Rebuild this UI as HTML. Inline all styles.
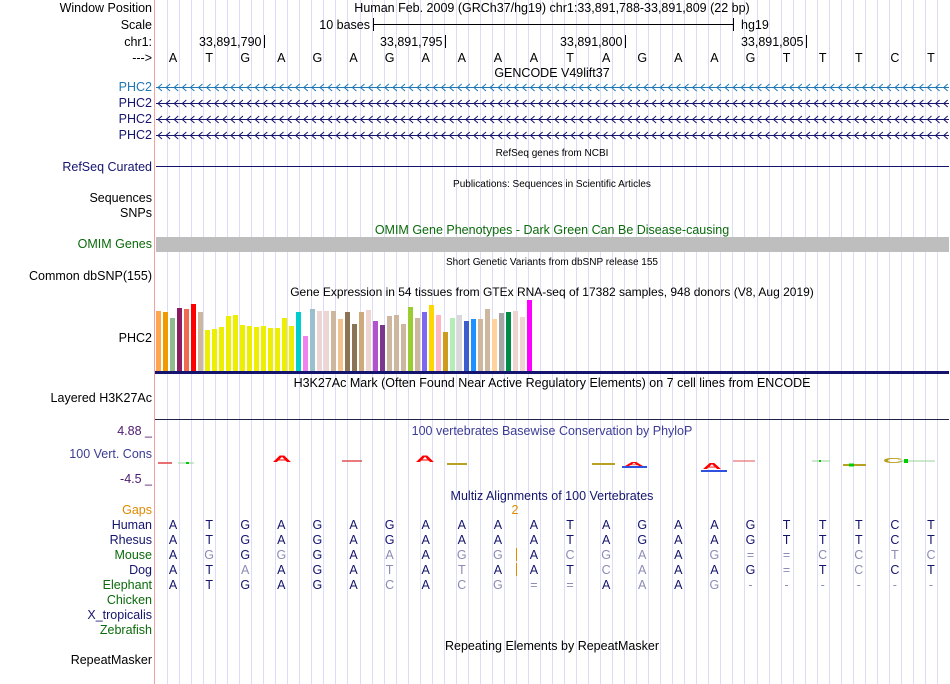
<!DOCTYPE html>
<html><head><meta charset="utf-8">
<style>
html,body{margin:0;padding:0;background:#fff;}
svg{display:block;font-family:"Liberation Sans",sans-serif;}
</style></head>
<body>
<svg id="c" width="950" height="684" viewBox="0 0 950 684" xmlns="http://www.w3.org/2000/svg">
<g id="grid"></g>
<line x1="154.5" y1="0" x2="154.5" y2="684" stroke="#f4a0a0" stroke-width="1"/>
<g id="labels" font-size="12.5" text-anchor="end"></g>
<g id="main"></g>
</svg>
<script>
const bases = ['A','T','G','A','G','A','G','A','A','A','A','T','A','G','A','A','G','T','T','T','C','T'];
const mouse = ['A','G','G','G','G','A','A','A','G','G','A','C','G','A','A','G','=','=','C','C','T','C'];
const dog = ['A','T','A','A','G','A','T','A','T','A','A','T','C','A','A','A','G','=','T','C','C','T'];
const elephant = ['A','T','G','A','G','A','C','A','C','G','=','=','A','A','A','G','-','-','-','-','-','-'];
const exprValues = [60,59,53,63,62,67,59,41,42,44,55,56,46,45,44,45,43,43,53,45,59,35,62,60,60,60,52,59,47,59,61,50,46,55,56,47,64,53,59,66,56,39,53,56,50,52,52,62,52,58,59,60,54,71];
const exprColors = ['#FFA54F','#EE9A00','#8FBC8F','#8B1C62','#EE6A50','#FF0000','#CDB79E','#EEEE00','#EEEE00','#EEEE00','#EEEE00','#EEEE00','#EEEE00','#EEEE00','#EEEE00','#EEEE00','#EEEE00','#EEEE00','#EEEE00','#EEEE00','#00CDCD','#EE82EE','#9AC0CD','#EED5D2','#EED5D2','#CDB79E','#F4C28E','#8B7355','#8B7355','#CDAA7D','#EED5D2','#B452CD','#7A378B','#CDB79E','#CDB79E','#CDB79E','#9ACD32','#CDB79E','#7B68EE','#FFD700','#FFB6C1','#CD9B1D','#B4EEB4','#D9D9D9','#3A5FCD','#1E90FF','#CDB79E','#CDB79E','#FFD39B','#A6A6A6','#008B45','#EED5D2','#EED5D2','#FF00FF'];
const tickLabels = ['33,891,790','33,891,795','33,891,800','33,891,805'];
const tickBaseIdx = [2,7,12,17];

const NS='http://www.w3.org/2000/svg';
const X0=155, BW=(949-155)/22;
function bx(i){return X0+BW*(i+0.5);}
function mk(tag,attrs,parent,txt){const e=document.createElementNS(NS,tag);for(const k in attrs)e.setAttribute(k,attrs[k]);if(txt!==undefined)e.textContent=txt;parent.appendChild(e);return e;}
const grid=document.getElementById('grid'),lab=document.getElementById('labels'),main=document.getElementById('main');

for(let k=1;k<66;k++){const x=Math.round(X0+BW/3*k)+0.5;if(x>949)break;
 const l=mk('line',{x1:x,y1:0,x2:x,y2:684,stroke:'#dcdcf6','stroke-width':1},grid);
 
 }

const labelRows=[['Window Position',12,'#000'],['Scale',29,'#000'],['chr1:',46,'#000'],['--->',62,'#000'],
['PHC2',91,'#1f77b4'],['PHC2',107,'#14146e'],['PHC2',123,'#14146e'],['PHC2',139,'#14146e'],
['RefSeq Curated',171,'#14146e'],['Sequences',202,'#000'],['SNPs',217,'#000'],['OMIM Genes',248,'#0b6a0b'],
['Common dbSNP(155)',280,'#000'],['PHC2',342,'#000'],['Layered H3K27Ac',402,'#000'],
['4.88 _',435,'#4b1a6e'],['100 Vert. Cons',458,'#3c3c96'],['-4.5 _',483,'#4b1a6e'],
['Gaps',514,'#e08a00'],['Human',529,'#14146e'],['Rhesus',544,'#14146e'],['Mouse',559,'#0b6a0b'],['Dog',574,'#14146e'],
['Elephant',589,'#0b6a0b'],['Chicken',604,'#0b6a0b'],['X_tropicalis',619,'#14146e'],['Zebrafish',634,'#0b6a0b'],['RepeatMasker',664,'#000']];
labelRows.forEach(r=>{const t=mk('text',{x:152,y:r[1],fill:r[2]},lab,r[0]);
 
 });

function title(txt,y,size,col,name,cx){const t=mk('text',{x:cx||552,y:y,'font-size':size,fill:col,'text-anchor':'middle'},main,txt);
 
 }
title('Human Feb. 2009 (GRCh37/hg19)   chr1:33,891,788-33,891,809 (22 bp)',12,12.5,'#000','position-title',552);
mk('text',{x:370,y:29,'font-size':12.5,'text-anchor':'end'},main,'10 bases');
mk('line',{x1:373,y1:24.5,x2:733,y2:24.5,stroke:'#000'},main);
mk('line',{x1:373.5,y1:18,x2:373.5,y2:31,stroke:'#000'},main);
mk('line',{x1:733.5,y1:18,x2:733.5,y2:31,stroke:'#000'},main);
mk('text',{x:741,y:29,'font-size':12.5},main,'hg19');
tickLabels.forEach((s,i)=>{const x=Math.round(bx(tickBaseIdx[i])+BW/2)+1.5;
 const t=mk('text',{x:x-3,y:46,'font-size':12.5,'text-anchor':'end'},main,s);
 
 
 mk('line',{x1:x,y1:35,x2:x,y2:48,stroke:'#000'},main);});
bases.forEach((b,i)=>{const t=mk('text',{x:bx(i),y:62,'font-size':12.5,'text-anchor':'middle'},main,b);
 
 });
title('GENCODE V49lift37',77,12.5,'#000','gencode-title');
[[87,'#1f77b4'],[103,'#14146e'],[119,'#14146e'],[135,'#14146e']].forEach(r=>{
 const g=mk('g',{stroke:r[1],fill:'none','stroke-width':1},main);
 
 
 mk('line',{x1:156,y1:r[0]+0.5,x2:949,y2:r[0]+0.5},g);
 for(let x=158;x<948;x+=8.1)mk('polyline',{points:`${x+4},${r[0]-3} ${x},${r[0]+0.5} ${x+4},${r[0]+4}`},g);});
title('RefSeq genes from NCBI',156,10,'#000','refseq-title');
const rl=mk('line',{x1:156,y1:166.5,x2:949,y2:166.5,stroke:'#14146e'},main);


title('Publications: Sequences in Scientific Articles',187,10,'#000','publications-title');
title('OMIM Gene Phenotypes - Dark Green Can Be Disease-causing',234,12.5,'#0b6a0b','omim-title');
const ob=mk('rect',{x:156,y:237,width:793,height:15,fill:'#bebebe'},main);


title('Short Genetic Variants from dbSNP release 155',265,10,'#000','dbsnp-title');
title('Gene Expression in 54 tissues from GTEx RNA-seq of 17382 samples, 948 donors (V8, Aug 2019)',296,12,'#000','gtex-title');
const baseY=371, yScale=1.0;
function ey(v){return baseY-v*yScale;}
exprValues.forEach((v,i)=>{const r=mk('rect',{x:156+i*7,y:ey(v),width:5,height:baseY-ey(v),fill:exprColors[i]},main);
 
 });
mk('rect',{x:155,y:371,width:794,height:3,fill:'#14146e'},main);
title('H3K27Ac Mark (Often Found Near Active Regulatory Elements) on 7 cell lines from ENCODE',387,12.5,'#000','h3k27ac-title');
mk('line',{x1:155,y1:419.5,x2:949,y2:419.5,stroke:'#222244'},main);
title('100 vertebrates Basewise Conservation by PhyloP',435,12.5,'#3c3c96','phylop-title');
function dash(x1,x2,y,c,w){mk('line',{x1:x1,y1:y,x2:x2,y2:y,stroke:c,'stroke-width':w||1.5},main);}
function logo(ch,cx,y,c,sx,sy){const p=mk('text',{x:0,y:0,'font-size':14,'font-weight':'bold',fill:c,'text-anchor':'middle',transform:`translate(${cx},${y}) scale(${sx},${sy})`},main,ch);
 
 }
dash(158,172,463,'#e04040');dash(178,194,463,'#9dd09d',1);dash(186,189,463,'#00cc00',2);
logo('A',282,462,'#ff0000',1.9,0.65);
dash(342,362,461,'#e05050');
logo('A',425,462,'#ff0000',1.9,0.65);dash(447,467,464,'#b8a020',2);
dash(592,615,464,'#b8a020',2);logo('A',634,466,'#ff0000',1.9,0.4);dash(622,647,467,'#3050e0',2);
logo('A',712,469,'#ff0000',1.9,0.6);dash(701,727,471,'#3050e0',2);dash(733,755,461,'#e05050',1);
dash(812,830,461,'#9dd09d',1);dash(819,821,461,'#00cc00',2);dash(843,866,465,'#b8a020',2);dash(849,854,465,'#00cc00',3);
logo('C',893,463,'#b8a020',2.0,0.55);
dash(900,935,461,'#9dd09d',1);dash(904,908,461,'#00cc00',4);
title('Multiz Alignments of 100 Vertebrates',500,12.5,'#14146e','multiz-title');
const DARK='#14146e', GRAY='#8c8cb4';
function row(seq,y,name){seq.forEach((b,i)=>{const match=(b===bases[i]);
 const t=mk('text',{x:bx(i),y:y,'font-size':12.5,'text-anchor':'middle',fill:match?DARK:GRAY},main,b);
 
 });}
row(bases,529,'human');row(bases,544,'rhesus');row(mouse,559,'mouse');row(dog,574,'dog');row(elephant,589,'elephant');
mk('text',{x:515,y:514,'font-size':12.5,fill:'#e08a00','text-anchor':'middle'},main,'2');
mk('line',{x1:516.5,y1:548,x2:516.5,y2:561,stroke:'#e08a00'},main);
mk('line',{x1:516.5,y1:563,x2:516.5,y2:576,stroke:'#e08a00'},main);
title('Repeating Elements by RepeatMasker',650,12.5,'#000','repeatmasker-title');
</script>
</body></html>
